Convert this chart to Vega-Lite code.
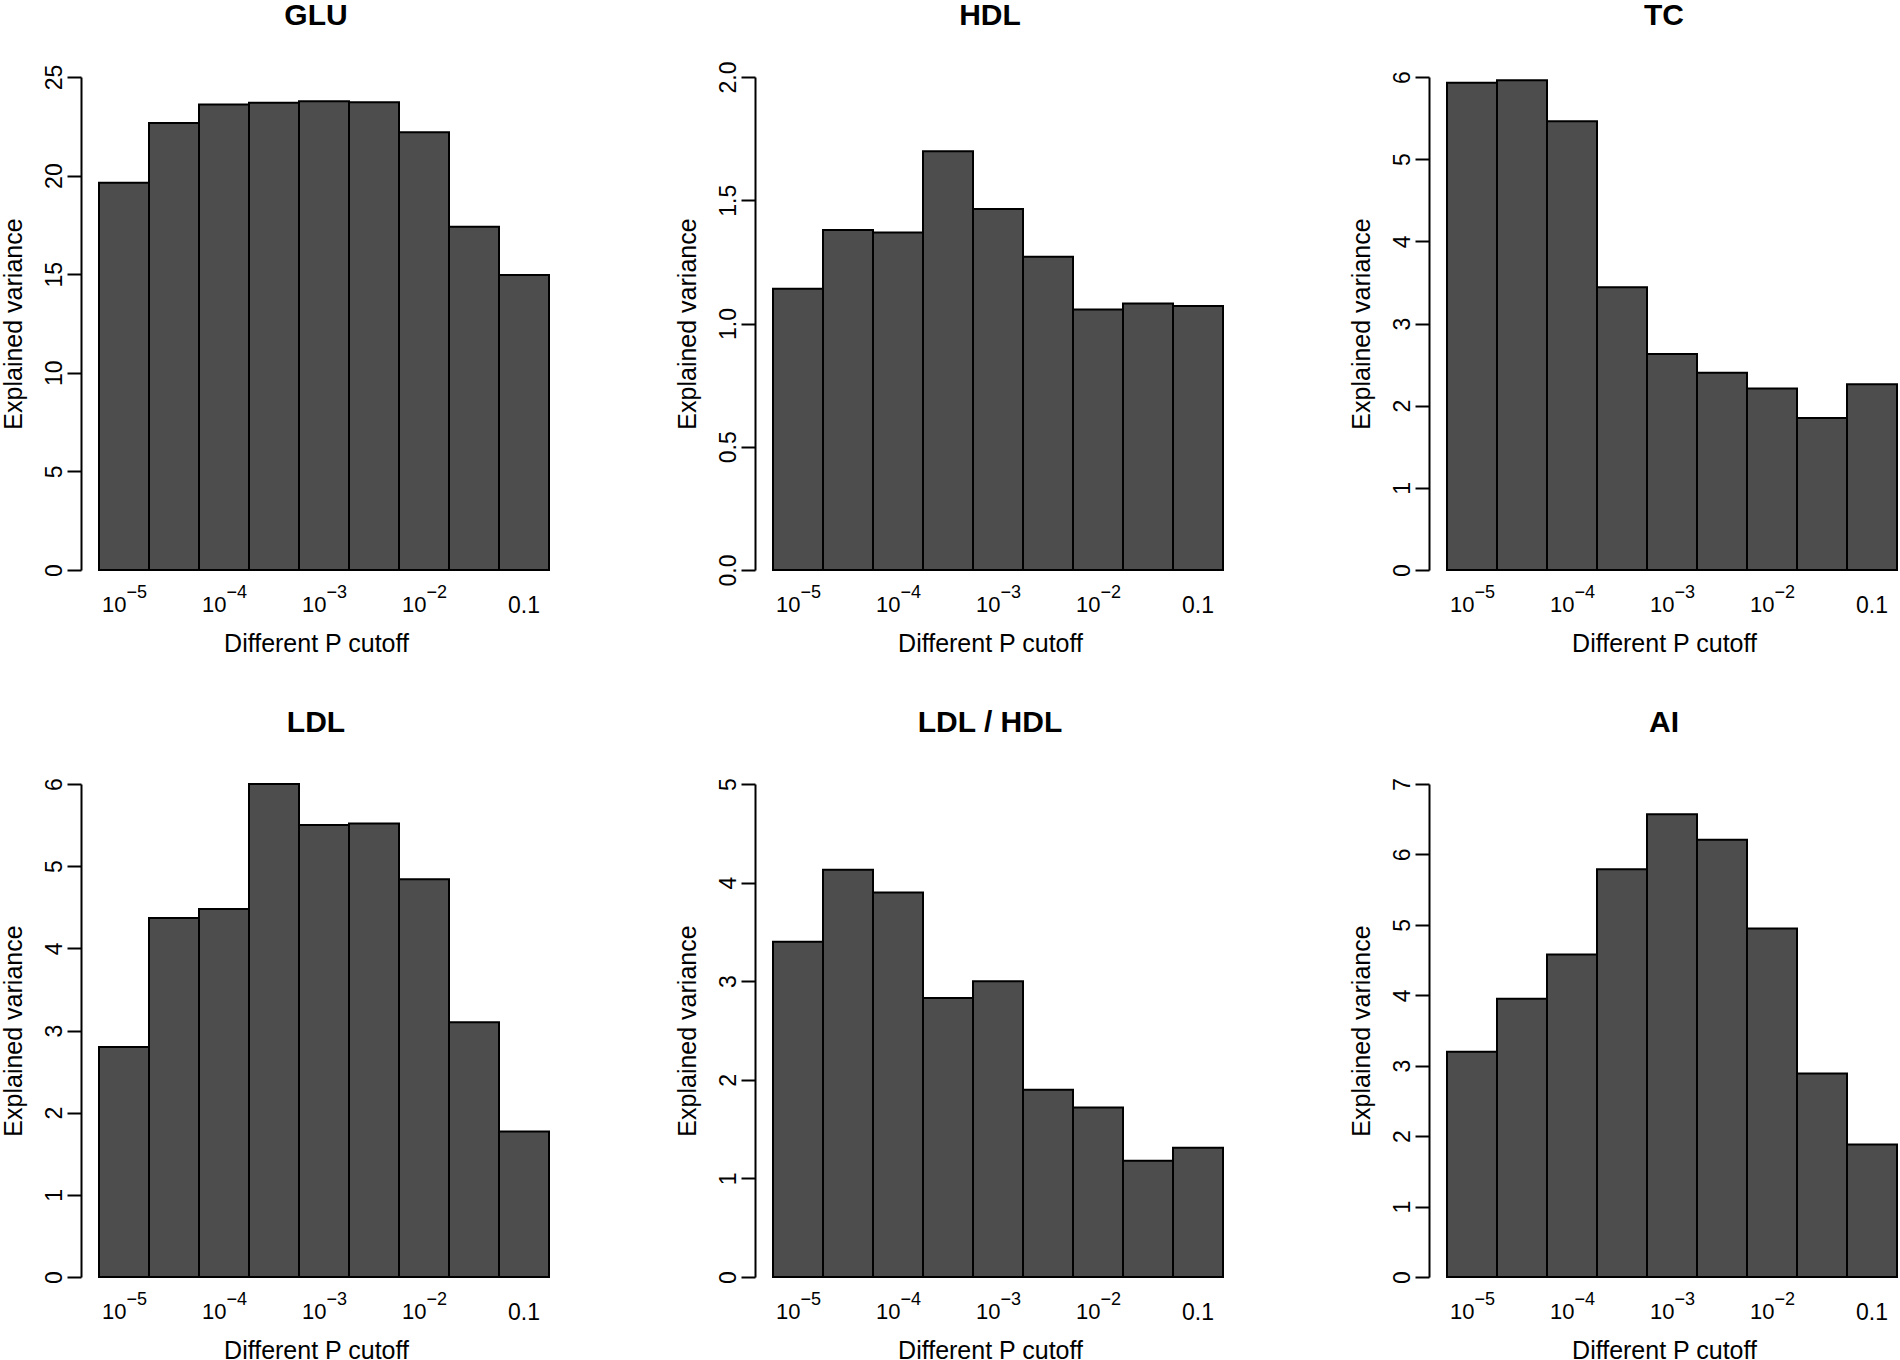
{
  "$schema": "https://vega.github.io/schema/vega-lite/v6.json",
  "padding": {"left": 1, "top": 0, "right": 0, "bottom": 0},
  "background": "white",
  "bounds": "flush",
  "columns": 3,
  "spacing": {"row": 214, "column": 204},
  "datasets": {
    "ev": [
      {"panel": "GLU", "cutoff": "1e-5", "value": 19.64},
      {"panel": "GLU", "cutoff": "5e-5", "value": 22.67},
      {"panel": "GLU", "cutoff": "1e-4", "value": 23.61},
      {"panel": "GLU", "cutoff": "5e-4", "value": 23.70},
      {"panel": "GLU", "cutoff": "1e-3", "value": 23.77},
      {"panel": "GLU", "cutoff": "5e-3", "value": 23.72},
      {"panel": "GLU", "cutoff": "1e-2", "value": 22.20},
      {"panel": "GLU", "cutoff": "5e-2", "value": 17.40},
      {"panel": "GLU", "cutoff": "0.1", "value": 14.96},
      {"panel": "HDL", "cutoff": "1e-5", "value": 1.141},
      {"panel": "HDL", "cutoff": "5e-5", "value": 1.379},
      {"panel": "HDL", "cutoff": "1e-4", "value": 1.369},
      {"panel": "HDL", "cutoff": "5e-4", "value": 1.699},
      {"panel": "HDL", "cutoff": "1e-3", "value": 1.465},
      {"panel": "HDL", "cutoff": "5e-3", "value": 1.271},
      {"panel": "HDL", "cutoff": "1e-2", "value": 1.057},
      {"panel": "HDL", "cutoff": "5e-2", "value": 1.081},
      {"panel": "HDL", "cutoff": "0.1", "value": 1.071},
      {"panel": "TC", "cutoff": "1e-5", "value": 5.93},
      {"panel": "TC", "cutoff": "5e-5", "value": 5.96},
      {"panel": "TC", "cutoff": "1e-4", "value": 5.46},
      {"panel": "TC", "cutoff": "5e-4", "value": 3.44},
      {"panel": "TC", "cutoff": "1e-3", "value": 2.63},
      {"panel": "TC", "cutoff": "5e-3", "value": 2.40},
      {"panel": "TC", "cutoff": "1e-2", "value": 2.21},
      {"panel": "TC", "cutoff": "5e-2", "value": 1.85},
      {"panel": "TC", "cutoff": "0.1", "value": 2.26},
      {"panel": "LDL", "cutoff": "1e-5", "value": 2.80},
      {"panel": "LDL", "cutoff": "5e-5", "value": 4.37},
      {"panel": "LDL", "cutoff": "1e-4", "value": 4.48},
      {"panel": "LDL", "cutoff": "5e-4", "value": 6.00},
      {"panel": "LDL", "cutoff": "1e-3", "value": 5.50},
      {"panel": "LDL", "cutoff": "5e-3", "value": 5.52},
      {"panel": "LDL", "cutoff": "1e-2", "value": 4.84},
      {"panel": "LDL", "cutoff": "5e-2", "value": 3.10},
      {"panel": "LDL", "cutoff": "0.1", "value": 1.77},
      {"panel": "LDL / HDL", "cutoff": "1e-5", "value": 3.40},
      {"panel": "LDL / HDL", "cutoff": "5e-5", "value": 4.13},
      {"panel": "LDL / HDL", "cutoff": "1e-4", "value": 3.90},
      {"panel": "LDL / HDL", "cutoff": "5e-4", "value": 2.83},
      {"panel": "LDL / HDL", "cutoff": "1e-3", "value": 3.00},
      {"panel": "LDL / HDL", "cutoff": "5e-3", "value": 1.90},
      {"panel": "LDL / HDL", "cutoff": "1e-2", "value": 1.72},
      {"panel": "LDL / HDL", "cutoff": "5e-2", "value": 1.18},
      {"panel": "LDL / HDL", "cutoff": "0.1", "value": 1.31},
      {"panel": "AI", "cutoff": "1e-5", "value": 3.20},
      {"panel": "AI", "cutoff": "5e-5", "value": 3.95},
      {"panel": "AI", "cutoff": "1e-4", "value": 4.58},
      {"panel": "AI", "cutoff": "5e-4", "value": 5.79},
      {"panel": "AI", "cutoff": "1e-3", "value": 6.57},
      {"panel": "AI", "cutoff": "5e-3", "value": 6.21},
      {"panel": "AI", "cutoff": "1e-2", "value": 4.95},
      {"panel": "AI", "cutoff": "5e-2", "value": 2.89},
      {"panel": "AI", "cutoff": "0.1", "value": 1.88}
    ],
    "labs": [
      {"cutoff": "1e-5", "base": "10", "exp": "−5"},
      {"cutoff": "1e-4", "base": "10", "exp": "−4"},
      {"cutoff": "1e-3", "base": "10", "exp": "−3"},
      {"cutoff": "1e-2", "base": "10", "exp": "−2"}
    ]
  },
  "concat": [
    {
      "title": {"text": "GLU", "offset": 33.4},
      "width": 470, "height": 493,
      "layer": [
        {"data": {"name": "ev"}, "transform": [{"filter": "datum.panel === 'GLU'"}],
         "mark": {"type": "bar", "fill": "#4d4d4d", "stroke": "black", "strokeWidth": 2},
         "encoding": {
           "x": {"field": "cutoff", "type": "ordinal", "scale": {"domain": ["1e-5","5e-5","1e-4","5e-4","1e-3","5e-3","1e-2","5e-2","0.1"], "paddingInner": 0, "paddingOuter": 0.2, "align": 0.9}, "axis": {"values": ["0.1"]}, "title": "Different P cutoff"},
           "y": {"field": "value", "type": "quantitative", "scale": {"domain": [0, 25], "nice": false}, "axis": {"values": [0, 5, 10, 15, 20, 25], "format": "d"}, "title": "Explained variance"}}},
        {"data": {"name": "labs"}, "mark": {"type": "text", "align": "right", "baseline": "alphabetic", "dx": 2.5, "dy": 42, "fontSize": 22, "color": "black"},
         "encoding": {"x": {"field": "cutoff", "type": "ordinal", "axis": {"values": ["0.1"]}, "title": "Different P cutoff"}, "y": {"datum": 0, "type": "quantitative"}, "text": {"field": "base"}}},
        {"data": {"name": "labs"}, "mark": {"type": "text", "align": "left", "baseline": "alphabetic", "dx": 2.5, "dy": 28, "fontSize": 18, "color": "black"},
         "encoding": {"x": {"field": "cutoff", "type": "ordinal", "axis": {"values": ["0.1"]}, "title": "Different P cutoff"}, "y": {"datum": 0, "type": "quantitative"}, "text": {"field": "exp"}}}
      ]
    },
    {
      "title": {"text": "HDL", "offset": 30.2},
      "width": 470, "height": 493,
      "layer": [
        {"data": {"name": "ev"}, "transform": [{"filter": "datum.panel === 'HDL'"}],
         "mark": {"type": "bar", "fill": "#4d4d4d", "stroke": "black", "strokeWidth": 2},
         "encoding": {
           "x": {"field": "cutoff", "type": "ordinal", "scale": {"domain": ["1e-5","5e-5","1e-4","5e-4","1e-3","5e-3","1e-2","5e-2","0.1"], "paddingInner": 0, "paddingOuter": 0.2, "align": 0.9}, "axis": {"values": ["0.1"]}, "title": "Different P cutoff"},
           "y": {"field": "value", "type": "quantitative", "scale": {"domain": [0, 2], "nice": false}, "axis": {"values": [0, 0.5, 1, 1.5, 2], "format": ".1f"}, "title": "Explained variance"}}},
        {"data": {"name": "labs"}, "mark": {"type": "text", "align": "right", "baseline": "alphabetic", "dx": 2.5, "dy": 42, "fontSize": 22, "color": "black"},
         "encoding": {"x": {"field": "cutoff", "type": "ordinal", "axis": {"values": ["0.1"]}, "title": "Different P cutoff"}, "y": {"datum": 0, "type": "quantitative"}, "text": {"field": "base"}}},
        {"data": {"name": "labs"}, "mark": {"type": "text", "align": "left", "baseline": "alphabetic", "dx": 2.5, "dy": 28, "fontSize": 18, "color": "black"},
         "encoding": {"x": {"field": "cutoff", "type": "ordinal", "axis": {"values": ["0.1"]}, "title": "Different P cutoff"}, "y": {"datum": 0, "type": "quantitative"}, "text": {"field": "exp"}}}
      ]
    },
    {
      "title": {"text": "TC", "offset": 39.8},
      "width": 470, "height": 493,
      "layer": [
        {"data": {"name": "ev"}, "transform": [{"filter": "datum.panel === 'TC'"}],
         "mark": {"type": "bar", "fill": "#4d4d4d", "stroke": "black", "strokeWidth": 2},
         "encoding": {
           "x": {"field": "cutoff", "type": "ordinal", "scale": {"domain": ["1e-5","5e-5","1e-4","5e-4","1e-3","5e-3","1e-2","5e-2","0.1"], "paddingInner": 0, "paddingOuter": 0.2, "align": 0.9}, "axis": {"values": ["0.1"]}, "title": "Different P cutoff"},
           "y": {"field": "value", "type": "quantitative", "scale": {"domain": [0, 6], "nice": false}, "axis": {"values": [0, 1, 2, 3, 4, 5, 6], "format": "d"}, "title": "Explained variance"}}},
        {"data": {"name": "labs"}, "mark": {"type": "text", "align": "right", "baseline": "alphabetic", "dx": 2.5, "dy": 42, "fontSize": 22, "color": "black"},
         "encoding": {"x": {"field": "cutoff", "type": "ordinal", "axis": {"values": ["0.1"]}, "title": "Different P cutoff"}, "y": {"datum": 0, "type": "quantitative"}, "text": {"field": "base"}}},
        {"data": {"name": "labs"}, "mark": {"type": "text", "align": "left", "baseline": "alphabetic", "dx": 2.5, "dy": 28, "fontSize": 18, "color": "black"},
         "encoding": {"x": {"field": "cutoff", "type": "ordinal", "axis": {"values": ["0.1"]}, "title": "Different P cutoff"}, "y": {"datum": 0, "type": "quantitative"}, "text": {"field": "exp"}}}
      ]
    },
    {
      "title": {"text": "LDL", "offset": 39.8},
      "width": 470, "height": 493,
      "layer": [
        {"data": {"name": "ev"}, "transform": [{"filter": "datum.panel === 'LDL'"}],
         "mark": {"type": "bar", "fill": "#4d4d4d", "stroke": "black", "strokeWidth": 2},
         "encoding": {
           "x": {"field": "cutoff", "type": "ordinal", "scale": {"domain": ["1e-5","5e-5","1e-4","5e-4","1e-3","5e-3","1e-2","5e-2","0.1"], "paddingInner": 0, "paddingOuter": 0.2, "align": 0.9}, "axis": {"values": ["0.1"]}, "title": "Different P cutoff"},
           "y": {"field": "value", "type": "quantitative", "scale": {"domain": [0, 6], "nice": false}, "axis": {"values": [0, 1, 2, 3, 4, 5, 6], "format": "d"}, "title": "Explained variance"}}},
        {"data": {"name": "labs"}, "mark": {"type": "text", "align": "right", "baseline": "alphabetic", "dx": 2.5, "dy": 42, "fontSize": 22, "color": "black"},
         "encoding": {"x": {"field": "cutoff", "type": "ordinal", "axis": {"values": ["0.1"]}, "title": "Different P cutoff"}, "y": {"datum": 0, "type": "quantitative"}, "text": {"field": "base"}}},
        {"data": {"name": "labs"}, "mark": {"type": "text", "align": "left", "baseline": "alphabetic", "dx": 2.5, "dy": 28, "fontSize": 18, "color": "black"},
         "encoding": {"x": {"field": "cutoff", "type": "ordinal", "axis": {"values": ["0.1"]}, "title": "Different P cutoff"}, "y": {"datum": 0, "type": "quantitative"}, "text": {"field": "exp"}}}
      ]
    },
    {
      "title": {"text": "LDL / HDL", "offset": 39.8},
      "width": 470, "height": 493,
      "layer": [
        {"data": {"name": "ev"}, "transform": [{"filter": "datum.panel === 'LDL / HDL'"}],
         "mark": {"type": "bar", "fill": "#4d4d4d", "stroke": "black", "strokeWidth": 2},
         "encoding": {
           "x": {"field": "cutoff", "type": "ordinal", "scale": {"domain": ["1e-5","5e-5","1e-4","5e-4","1e-3","5e-3","1e-2","5e-2","0.1"], "paddingInner": 0, "paddingOuter": 0.2, "align": 0.9}, "axis": {"values": ["0.1"]}, "title": "Different P cutoff"},
           "y": {"field": "value", "type": "quantitative", "scale": {"domain": [0, 5], "nice": false}, "axis": {"values": [0, 1, 2, 3, 4, 5], "format": "d"}, "title": "Explained variance"}}},
        {"data": {"name": "labs"}, "mark": {"type": "text", "align": "right", "baseline": "alphabetic", "dx": 2.5, "dy": 42, "fontSize": 22, "color": "black"},
         "encoding": {"x": {"field": "cutoff", "type": "ordinal", "axis": {"values": ["0.1"]}, "title": "Different P cutoff"}, "y": {"datum": 0, "type": "quantitative"}, "text": {"field": "base"}}},
        {"data": {"name": "labs"}, "mark": {"type": "text", "align": "left", "baseline": "alphabetic", "dx": 2.5, "dy": 28, "fontSize": 18, "color": "black"},
         "encoding": {"x": {"field": "cutoff", "type": "ordinal", "axis": {"values": ["0.1"]}, "title": "Different P cutoff"}, "y": {"datum": 0, "type": "quantitative"}, "text": {"field": "exp"}}}
      ]
    },
    {
      "title": {"text": "AI", "offset": 39.8},
      "width": 470, "height": 493,
      "layer": [
        {"data": {"name": "ev"}, "transform": [{"filter": "datum.panel === 'AI'"}],
         "mark": {"type": "bar", "fill": "#4d4d4d", "stroke": "black", "strokeWidth": 2},
         "encoding": {
           "x": {"field": "cutoff", "type": "ordinal", "scale": {"domain": ["1e-5","5e-5","1e-4","5e-4","1e-3","5e-3","1e-2","5e-2","0.1"], "paddingInner": 0, "paddingOuter": 0.2, "align": 0.9}, "axis": {"values": ["0.1"]}, "title": "Different P cutoff"},
           "y": {"field": "value", "type": "quantitative", "scale": {"domain": [0, 7], "nice": false}, "axis": {"values": [0, 1, 2, 3, 4, 5, 6, 7], "format": "d"}, "title": "Explained variance"}}},
        {"data": {"name": "labs"}, "mark": {"type": "text", "align": "right", "baseline": "alphabetic", "dx": 2.5, "dy": 42, "fontSize": 22, "color": "black"},
         "encoding": {"x": {"field": "cutoff", "type": "ordinal", "axis": {"values": ["0.1"]}, "title": "Different P cutoff"}, "y": {"datum": 0, "type": "quantitative"}, "text": {"field": "base"}}},
        {"data": {"name": "labs"}, "mark": {"type": "text", "align": "left", "baseline": "alphabetic", "dx": 2.5, "dy": 28, "fontSize": 18, "color": "black"},
         "encoding": {"x": {"field": "cutoff", "type": "ordinal", "axis": {"values": ["0.1"]}, "title": "Different P cutoff"}, "y": {"datum": 0, "type": "quantitative"}, "text": {"field": "exp"}}}
      ]
    }
  ],
  "config": {
    "font": "Liberation Sans",
    "view": {"stroke": null},
    "text": {"font": "Liberation Sans"},
    "title": {"fontSize": 30, "fontWeight": "bold", "color": "black", "anchor": "middle", "frame": "group", "baseline": "alphabetic", "font": "Liberation Sans"},
    "axisX": {
      "domain": false, "ticks": false, "tickSize": 0, "grid": false,
      "labelAngle": 0, "labelFontSize": 23, "labelColor": "black", "labelPadding": 24, "labelFont": "Liberation Sans",
      "titleFontSize": 25, "titleFontWeight": "normal", "titleColor": "black", "titlePadding": 14.5, "titleFont": "Liberation Sans"
    },
    "axisY": {
      "domain": true, "domainColor": "black", "domainWidth": 2,
      "ticks": true, "tickColor": "black", "tickWidth": 2, "tickSize": 14, "grid": false,
      "labelAngle": 270, "labelAlign": "center", "labelBaseline": "alphabetic", "labelFlush": false, "labelOverlap": false,
      "labelFontSize": 23, "labelColor": "black", "labelPadding": 6, "labelFont": "Liberation Sans",
      "titleFontSize": 25, "titleFontWeight": "normal", "titleColor": "black", "titlePadding": 17, "titleFont": "Liberation Sans"
    }
  }
}
